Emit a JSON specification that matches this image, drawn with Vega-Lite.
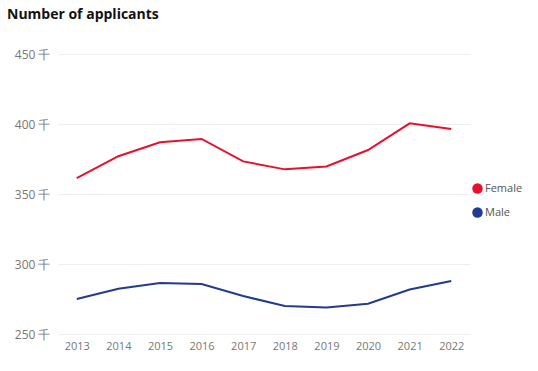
{
  "$schema": "https://vega.github.io/schema/vega-lite/v6.json",
  "width": 412,
  "height": 280,
  "autosize": {"type": "none"},
  "padding": {"left": 58, "top": 54, "right": 68, "bottom": 37},
  "background": "white",
  "title": {"text": "Number of applicants", "anchor": "start", "frame": "group", "dx": -51, "offset": 26, "fontSize": 14, "fontWeight": "bold", "font": "Open Sans", "color": "#111111"},
  "data": {"values": [
    {"year": "2013", "sex": "Female", "v": 361.4},
    {"year": "2014", "sex": "Female", "v": 377},
    {"year": "2015", "sex": "Female", "v": 387},
    {"year": "2016", "sex": "Female", "v": 389.3},
    {"year": "2017", "sex": "Female", "v": 373.3},
    {"year": "2018", "sex": "Female", "v": 367.6},
    {"year": "2019", "sex": "Female", "v": 369.7},
    {"year": "2020", "sex": "Female", "v": 381.4},
    {"year": "2021", "sex": "Female", "v": 400.5},
    {"year": "2022", "sex": "Female", "v": 396.4},
    {"year": "2013", "sex": "Male", "v": 275},
    {"year": "2014", "sex": "Male", "v": 282.3},
    {"year": "2015", "sex": "Male", "v": 286.4},
    {"year": "2016", "sex": "Male", "v": 285.7},
    {"year": "2017", "sex": "Male", "v": 277.1},
    {"year": "2018", "sex": "Male", "v": 270},
    {"year": "2019", "sex": "Male", "v": 269},
    {"year": "2020", "sex": "Male", "v": 271.6},
    {"year": "2021", "sex": "Male", "v": 281.8},
    {"year": "2022", "sex": "Male", "v": 287.9}
  ]},
  "mark": {"type": "line", "strokeWidth": 2},
  "encoding": {
    "x": {"field": "year", "type": "ordinal", "scale": {"type": "point", "padding": 0.45},
      "axis": {"title": null, "domain": false, "ticks": false, "labelAngle": 0, "labelFont": "Open Sans", "labelFontSize": 11, "labelColor": "#777777", "labelPadding": 6, "grid": false}},
    "y": {"field": "v", "type": "quantitative", "scale": {"domain": [250, 450], "nice": false, "zero": false},
      "axis": {"title": null, "values": [250, 300, 350, 400, 450], "labelExpr": "datum.value + ' 千'", "domain": false, "ticks": false, "labelFont": "Open Sans", "labelFontSize": 12, "labelColor": "#777777", "labelPadding": 8, "gridColor": "#eeeeee", "gridWidth": 1}},
    "color": {"field": "sex", "type": "nominal",
      "scale": {"domain": ["Female", "Male"], "range": ["#E8112D", "#233A8F"]},
      "legend": {"title": null, "orient": "none", "legendX": 414, "legendY": 129, "symbolType": "circle", "symbolSize": 110, "symbolStrokeWidth": 0, "labelFont": "Open Sans", "labelFontSize": 11, "labelColor": "#555555", "labelOffset": 2, "rowPadding": 12,
        "encode": {"symbols": {"update": {"fill": {"scale": "color", "field": "value"}, "fillOpacity": {"value": 1}, "strokeWidth": {"value": 0}}}}}}
  },
  "config": {"view": {"stroke": null}}
}
